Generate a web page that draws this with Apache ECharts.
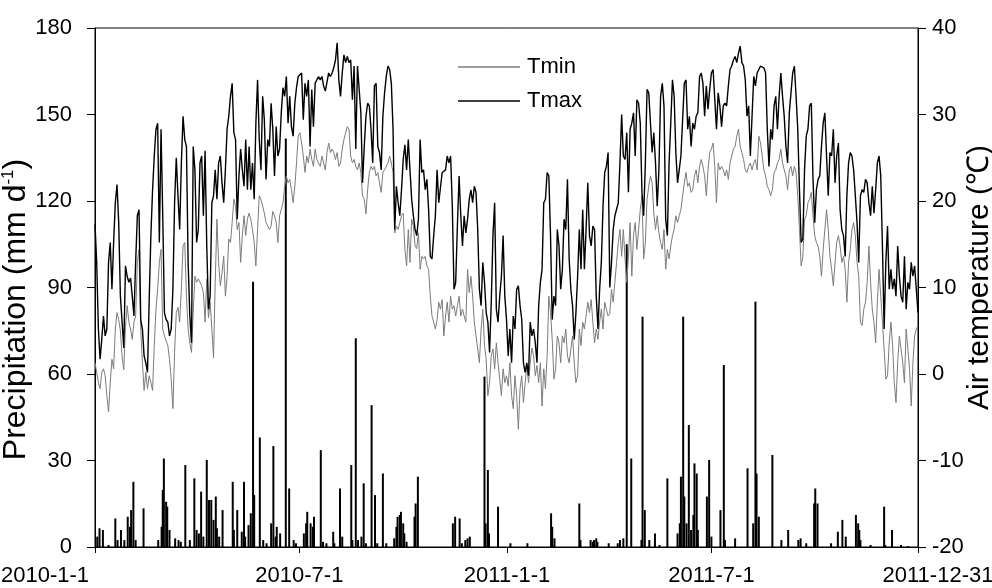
<!DOCTYPE html>
<html>
<head>
<meta charset="utf-8">
<script src="https://cdn.jsdelivr.net/npm/echarts@6/dist/echarts.min.js"></script>
<style>
  html, body { margin: 0; padding: 0; background: #fff; }
  #chart { width: 992px; height: 588px; }
</style>
</head>
<body>
<div id="chart"></div>
<script>
// day 0 = 2010-1-1, day 729 = 2011-12-31
// temperatures every 1.5 days
const dayStep = 1.5;

const tmax = [
  17.3, 12.9, 5.2, 1.7, 4.0, 6.7, 4.4, 5.2, 12.9, 15.2, 9.8, 15.2, 19.8, 21.9, 17.5, 9.0, 6.0, 3.0, 12.5, 11.3,
  10.6, 11.1, 9.0, 6.7, 12.9, 18.3, 19.0, 6.3, 5.2, 2.1, 1.3, 0.2, 8.6, 16.0, 21.3, 25.2, 28.3, 29.0, 15.2, 28.3,
  18.3, 7.1, 6.3, 6.0, 4.4, 5.2, 9.8, 19.8, 25.0, 20.6, 16.7, 24.4, 29.8, 27.1, 26.3, 12.9, 6.7, 3.6, 26.3, 23.6,
  15.2,
  16.7, 24.4, 25.2, 18.3, 25.8, 14.8, 7.5, 9.0, 19.8, 20.6, 23.6, 20.2, 24.4, 25.2, 22.1, 19.8, 23.6, 28.3, 29.8, 32.1,
  33.6, 27.9, 27.1, 17.9, 22.9, 26.0, 23.6, 21.7, 27.1, 21.3, 26.3, 21.3, 24.4, 20.2, 29.0, 34.0, 27.1, 23.6, 32.1, 29.4,
  22.5, 27.1, 26.3, 31.3, 28.3, 22.9, 28.6, 25.2, 26.0, 30.2, 33.1, 32.1, 34.4, 29.0, 32.1, 28.6, 27.5, 31.3, 33.1, 34.4,
  34.6,
  34.8, 29.4, 33.6, 32.1, 34.0, 26.3, 32.9, 28.6, 33.6, 34.0, 34.4, 34.0, 34.4, 33.3, 32.7, 32.5, 34.8, 34.4, 34.8, 35.4,
  36.3, 38.3, 34.0, 32.1, 34.8, 36.9, 36.0, 36.7, 36.0, 36.3, 31.7, 35.6, 26.0, 35.6, 35.6, 30.2, 22.1, 26.3, 29.8, 31.3,
  31.0, 28.3, 24.4, 33.3, 33.6, 26.3, 25.6, 23.6, 29.8, 32.5, 34.4, 35.6, 35.2, 33.6, 28.3, 16.7, 21.7, 19.8, 18.3, 21.3,
  24.8,
  26.5, 23.6, 27.1, 23.6, 20.2, 18.3, 16.7, 16.0, 17.9, 27.1, 23.3, 23.6, 21.3, 22.5, 19.0, 13.6, 13.3, 16.0, 18.3, 23.6,
  19.8, 19.8, 23.3, 23.3, 23.6, 25.2, 24.4, 25.2, 19.4, 9.8, 10.6, 17.1, 22.9, 18.3, 14.8, 18.3, 16.3, 17.9, 20.2, 21.3,
  19.8, 21.7, 21.0, 16.7, 9.8, 7.9, 12.9, 10.6, 7.1, 6.0, 2.5, 8.3, 16.0, 19.8, 7.5, 6.0, 9.0, 11.3, 16.0, 9.0,
  6.3,
  2.1, 5.2, 1.3, 6.7, 5.2, 9.8, 10.2, 7.9, 6.3, 1.3, 0.2, 1.3, -0.2, 6.0, 4.4, 5.2, 3.6, 1.3, 7.9, 10.6,
  12.1, 19.8, 20.2, 23.3, 22.9, 16.0, 6.3, 9.0, 7.9, 16.7, 14.8, 9.8, 12.1, 17.9, 16.7, 22.5, 13.3, 9.8, 7.9, 4.0,
  7.1, 11.3, 16.7, 12.1, 19.0, 12.1, 16.7, 22.1, 16.0, 14.8, 17.1, 16.7, 9.0, 5.2, 9.8, 12.9, 19.4, 23.3, 24.0, 25.6,
  10.0,
  12.9, 16.7, 18.3, 18.3, 19.8, 24.4, 30.0, 25.2, 24.8, 27.9, 21.0, 28.3, 29.0, 30.2, 25.2, 31.7, 31.3, 29.0, 21.0, 18.3,
  24.4, 32.9, 32.5, 32.5, 25.6, 27.9, 24.4, 19.4, 23.6, 32.1, 33.6, 31.0, 17.9, 16.0, 24.4, 29.0, 34.0, 32.1, 25.6, 22.1,
  23.6, 25.2, 29.4, 33.6, 34.0, 28.3, 29.8, 26.3, 29.0, 28.3, 29.8, 30.2, 34.4, 34.8, 33.6, 29.8, 33.3, 30.6, 32.9, 34.8,
  35.2,
  35.2, 28.3, 32.5, 31.0, 28.6, 31.0, 31.3, 31.0, 33.3, 35.2, 35.6, 36.3, 36.7, 36.0, 37.1, 37.9, 36.0, 35.6, 34.0, 29.8,
  31.0, 25.2, 29.8, 34.4, 33.3, 34.8, 35.2, 35.6, 35.8, 35.4, 34.8, 28.3, 24.0, 28.3, 27.1, 31.0, 32.1, 28.3, 32.1, 34.8,
  32.1, 29.8, 26.3, 24.4, 30.2, 32.5, 34.8, 35.6, 32.1, 28.3, 21.3, 15.2, 15.6, 23.6, 27.5, 28.3, 31.0, 31.3, 22.5, 17.5,
  21.3,
  22.5, 22.9, 26.3, 29.0, 30.2, 25.2, 20.6, 25.6, 25.2, 28.3, 22.1, 25.2, 26.7, 19.0, 16.7, 16.0, 13.6, 20.6, 24.4, 25.6,
  25.2, 23.6, 20.6, 17.5, 12.9, 20.6, 21.3, 21.0, 22.5, 22.1, 19.8, 18.3, 21.7, 18.6, 21.3, 24.4, 25.2, 22.9, 14.8, 5.2,
  12.9, 17.1, 9.8, 12.1, 9.8, 11.0, 9.0, 14.8, 11.3, 9.0, 8.3, 13.6, 7.5, 10.6, 9.8, 12.9, 11.3, 12.5, 9.8, 7.1
];

const tmin = [
  1.3, 0.2, -1.0, -1.7, 0.2, 0.6, -0.2, -2.5, -4.4, -1.0, 1.7, 0.6, 5.2, 7.1, 6.3, 5.0, 2.0, 0.5, 5.5, 7.9,
  6.0, 5.2, 4.0, 6.0, 6.7, 12.9, 14.4, 5.2, 1.3, -1.9, 0.2, -1.7, -0.2, -1.0, -1.9, 3.3, 7.5, 9.8, 12.9, 14.4,
  5.2, 4.4, 4.4, 3.3, 1.7, -0.6, -4.0, 2.5, 7.1, 7.7, 6.0, 9.8, 14.8, 15.2, 9.0, 5.2, 3.6, 2.5, 7.1, 11.3,
  10.6,
  11.0, 10.6, 10.2, 9.4, 6.0, 11.0, 6.5, 8.3, 5.2, 1.9, 10.6, 17.9, 12.9, 10.2, 11.7, 13.6, 9.0, 11.3, 15.6, 15.2,
  17.5, 20.2, 19.4, 16.7, 17.5, 12.9, 16.0, 18.3, 16.0, 17.9, 18.6, 17.9, 16.7, 15.2, 12.5, 16.7, 20.6, 20.2, 19.4, 18.6,
  17.5, 17.1, 16.7, 17.1, 18.8, 18.3, 17.5, 15.2, 18.3, 19.0, 19.8, 21.7, 22.9, 22.1, 22.5, 21.3, 19.8, 21.7, 24.4, 27.5,
  27.9,
  26.7, 25.2, 23.3, 25.2, 24.4, 26.0, 24.8, 24.0, 26.0, 24.8, 24.8, 24.0, 25.2, 24.4, 23.6, 25.6, 26.7, 25.6, 26.0, 25.6,
  24.8, 25.6, 24.0, 24.4, 26.0, 27.1, 27.9, 28.6, 28.3, 25.2, 24.4, 24.8, 24.0, 23.6, 24.4, 23.3, 20.6, 20.2, 18.5, 21.3,
  23.3, 24.0, 23.6, 24.0, 22.9, 23.3, 22.1, 21.0, 23.3, 23.6, 23.6, 24.4, 25.2, 24.4, 23.3, 16.3, 17.1, 16.7, 17.5, 18.3,
  18.6,
  14.4, 12.5, 16.7, 12.9, 17.9, 17.1, 14.8, 14.5, 16.3, 12.1, 13.6, 13.3, 13.6, 12.5, 12.1, 9.0, 6.7, 6.0, 5.2, 6.3,
  8.3, 7.5, 8.6, 4.4, 6.7, 8.3, 6.0, 9.0, 7.5, 7.9, 6.7, 7.9, 9.0, 6.7, 7.5, 6.7, 6.0, 12.1, 9.4, 11.3,
  9.0, 6.0, 4.4, 2.9, 1.3, 5.2, 7.5, 3.3, 1.7, -2.5, -1.0, 2.1, 2.9, 0.6, 3.6, 1.3, -0.6, -2.5, 0.6, -1.0,
  -0.2,
  -1.4, 1.3, -2.5, -4.0, -0.2, -2.5, -6.4, -1.7, -0.2, -3.3, -1.0, 1.0, -1.0, 1.3, 3.0, 2.1, -0.2, 1.0, -1.0, 1.3,
  -3.7, 0.6, -1.7, 2.1, 9.0, 7.1, 4.0, -0.6, 0.6, 4.4, 3.6, 1.3, 4.4, 3.6, 5.2, 2.1, 1.3, 2.9, 4.4, 1.3,
  -1.0, -0.2, 5.2, 3.3, 6.0, 5.2, 6.7, 8.3, 7.1, 8.6, 6.0, 3.6, 5.2, 4.0, 6.0, 7.5, 5.2, 8.3, 7.5, 6.7,
  7.0,
  9.8, 8.3, 10.6, 12.9, 15.2, 16.7, 13.6, 16.7, 13.3, 10.6, 13.6, 17.5, 11.3, 16.0, 17.5, 14.4, 16.7, 19.0, 20.6, 13.3,
  15.2, 20.2, 21.7, 22.9, 22.1, 18.6, 16.7, 18.3, 16.3, 15.2, 14.4, 16.7, 12.1, 14.4, 13.3, 14.8, 16.0, 16.7, 18.3, 17.5,
  18.3, 19.0, 20.6, 22.1, 23.3, 21.7, 22.1, 21.0, 21.3, 22.9, 23.6, 22.1, 24.0, 24.8, 24.0, 22.9, 20.6, 23.6, 25.6, 26.0,
  26.7,
  24.0, 19.8, 24.4, 23.6, 24.0, 23.6, 22.9, 23.6, 22.5, 24.4, 25.2, 26.0, 26.3, 27.5, 28.3, 26.3, 25.6, 24.8, 23.6, 23.3,
  24.0, 24.4, 23.6, 24.4, 24.8, 23.6, 27.5, 26.7, 25.2, 23.6, 22.9, 21.7, 21.3, 20.6, 21.3, 23.3, 23.6, 24.4, 24.8, 26.0,
  24.4, 23.6, 22.9, 21.3, 23.6, 24.0, 22.9, 24.0, 23.3, 20.6, 16.7, 12.5, 13.6, 17.9, 18.3, 19.8, 20.2, 21.0, 18.3, 16.0,
  15.2,
  14.8, 13.6, 11.3, 14.4, 16.7, 19.0, 16.7, 13.6, 12.1, 10.2, 12.9, 15.2, 16.0, 14.8, 12.9, 13.6, 12.1, 8.3, 12.9, 14.4,
  16.7, 17.5, 16.0, 12.9, 11.3, 6.0, 5.6, 7.5, 8.3, 10.6, 14.8, 10.6, 7.5, 6.0, 3.6, 8.3, 12.1, 9.0, 6.0, 2.9,
  -0.6, -0.2, 3.6, 6.0, 3.3, -1.0, -3.3, 1.3, 4.4, 2.9, 1.3, -1.0, 5.2, 2.9, 0.6, -3.7, 1.3, 4.4, 5.2, 5.6
];

// rain days and daily precipitation (mm)
const rainDay = [
  2, 4, 7, 12, 18, 20, 23, 26, 29, 31, 32, 34, 36, 43, 56, 59, 60, 61, 63, 64, 66, 71, 74, 76, 80, 84, 88, 90,
  92, 94, 96, 99, 101, 103, 105, 107, 108, 110, 113, 122, 123, 126, 130, 132, 133, 136, 138, 140, 141, 146, 149, 152,
  156, 158, 160, 161, 164, 169, 172, 176, 178,
  185, 187, 188, 191, 193, 194, 200, 202, 205, 211, 212, 217, 219, 227, 228, 231, 233, 236, 238, 240, 245, 248, 250,
  255, 258, 265, 267, 268, 270, 271, 273, 274, 276,
  283, 284, 286, 317, 319, 323, 325, 328, 330, 332, 345, 346, 348, 349, 357,
  368, 383, 404, 405, 407, 429, 430, 439, 441, 442, 444, 445, 455,
  463, 465, 468, 471, 475, 484, 485, 487, 491, 496, 500, 507, 516, 518, 519, 521, 522, 524, 526, 528, 530, 531, 533,
  534, 542, 544, 546,
  554, 557, 558, 567, 578, 583, 585, 586, 588, 600, 608, 614, 623, 625, 630, 637, 638, 640,
  652, 658, 662, 665, 674, 676, 677, 678, 687, 699, 700, 706, 714, 720
];
const rainVal = [
  3.6, 6.5, 5.9, 0.7, 9.9, 2.4, 5.9, 2.4, 10.5, 7.0, 12.8, 22.6, 2.4, 13.4, 2.4, 7.0, 19.8, 30.7, 15.7, 14.0, 5.9, 3.0, 2.4, 1.8, 28.4, 2.4, 23.8, 5.9,
  4.7, 19.2, 3.6, 30.2, 16.3, 16.3, 9.4, 17.5, 6.5, 3.6, 12.8, 22.6, 5.9, 12.8, 5.3, 22.6, 3.6, 7.6, 11.7, 92.0, 18.0, 38.0, 2.4, 1.3,
  8.2, 35.0, 3.6, 7.0, 4.7, 141.7, 20.3, 2.4, 1.3,
  4.7, 8.2, 12.2, 8.2, 7.0, 10.5, 33.6, 1.8, 1.3, 5.3, 1.3, 20.3, 3.6, 28.4, 2.4, 72.4, 2.4, 3.6, 22.1, 1.3, 49.2, 18.0, 1.3,
  25.5, 1.3, 3.0, 7.0, 10.5, 11.1, 12.2, 8.2, 4.7, 1.8,
  10.5, 15.1, 24.4, 8.2, 10.5, 9.9, 1.3, 2.4, 3.0, 3.6, 59.1, 8.2, 26.7, 4.7, 14.0,
  1.3, 1.3, 11.7, 7.0, 3.0, 15.1, 2.4, 2.4, 1.8, 2.4, 3.0, 1.8, 1.3,
  1.3, 2.4, 3.0, 105.0, 30.7, 2.4, 79.9, 12.8, 2.4, 4.7, 0.7, 23.8, 4.7, 8.2, 24.4, 79.9, 17.5, 8.2, 42.3, 5.9, 11.1, 29.0, 25.5,
  5.9, 17.5, 30.2, 3.6,
  12.8, 63.1, 2.4, 3.0, 27.3, 8.2, 85.1, 25.5, 10.5, 31.9, 2.4, 5.9, 2.4, 3.0, 1.3, 15.1, 20.3, 15.1,
  1.3, 5.3, 9.4, 3.6, 11.1, 8.2, 5.9, 2.4, 0.7, 14.0, 0.7, 5.9, 0.7, 0.3
];

const tickDays = [0, 181, 365, 546, 729];
const tickLabels = ['2010-1-1', '2010-7-1', '2011-1-1', '2011-7-1', '2011-12-31'];

const font = 'Liberation Sans, Arial, sans-serif';
const axisColor = '#000';
const tminColor = '#7c7c7c';

const chart = echarts.init(document.getElementById('chart'));

chart.setOption({
  animation: false,
  backgroundColor: '#fff',
  textStyle: { fontFamily: font, color: '#000' },
  grid: {
    left: 95, right: 74, top: 28, bottom: 41,
    outerBoundsMode: 'none',
    containLabel: false,
    show: true, borderColor: axisColor, borderWidth: 1
  },
  legend: {
    orient: 'vertical',
    left: 458, top: 56,
    padding: 0,
    icon: 'rect',
    itemWidth: 62, itemHeight: 1.5, itemGap: 12,
    textStyle: { fontSize: 22, color: '#000', fontFamily: font, lineHeight: 22, padding: [0, 0, 0, 2] },
    data: ['Tmin', 'Tmax']
  },
  xAxis: {
    type: 'value',
    min: 0, max: 729,
    splitLine: { show: false },
    axisLine: { lineStyle: { color: axisColor, width: 1 } },
    axisTick: { customValues: tickDays, length: 6, lineStyle: { color: axisColor } },
    axisLabel: {
      customValues: tickDays,
      margin: 18,
      fontSize: 22, color: '#000', fontFamily: font,
      formatter: function (v) {
        const i = tickDays.indexOf(v);
        if (i === 0) return '{first|' + tickLabels[i] + '}';
        if (i === tickDays.length - 1) return '{last|' + tickLabels[i] + '}';
        return tickLabels[i];
      },
      rich: {
        first: { fontSize: 22, fontFamily: font, color: '#000', padding: [0, 100, 0, 0] },
        last: { fontSize: 22, fontFamily: font, color: '#000', padding: [0, 0, 0, 40] }
      }
    }
  },
  yAxis: [
    {
      type: 'value',
      min: 0, max: 180, interval: 30,
      splitLine: { show: false },
      axisLine: { show: true, lineStyle: { color: axisColor, width: 1 } },
      axisTick: { show: true, length: 8, lineStyle: { color: axisColor } },
      axisLabel: { margin: 23, fontSize: 22, color: '#000', fontFamily: font },
      // trailing spacer pushes the rotated title a little below the axis middle
      name: 'Precipitation (mm d{sup|-1}){gap|}',
      nameLocation: 'middle',
      nameRotate: 90,
      nameGap: 63,
      nameMoveOverlap: false,
      nameTextStyle: {
        fontSize: 32, color: '#000', fontFamily: font,
        rich: {
          sup: { fontSize: 17, color: '#000', fontFamily: font, verticalAlign: 'top', lineHeight: 32 },
          gap: { width: 44 }
        }
      }
    },
    {
      type: 'value',
      min: -20, max: 40, interval: 10,
      position: 'right',
      splitLine: { show: false },
      axisLine: { show: true, lineStyle: { color: axisColor, width: 1 } },
      axisTick: { show: true, length: 8, lineStyle: { color: axisColor } },
      axisLabel: { margin: 14, fontSize: 22, color: '#000', fontFamily: font },
      name: '{gap|}Air temperature (℃)',
      nameLocation: 'middle',
      nameRotate: 90,
      nameGap: 47,
      nameMoveOverlap: false,
      nameTextStyle: {
        fontSize: 30, color: '#000', fontFamily: font,
        rich: { gap: { width: 20 } }
      }
    }
  ],
  series: [
    {
      name: 'Precipitation',
      type: 'bar',
      xAxisIndex: 0, yAxisIndex: 0,
      barWidth: 2,
      itemStyle: { color: '#000' },
      data: rainDay.map((d, i) => [d, rainVal[i]])
    },
    {
      name: 'Tmin',
      type: 'line',
      yAxisIndex: 1,
      symbol: 'none',
      lineStyle: { color: tminColor, width: 1 },
      itemStyle: { color: tminColor },
      data: tmin.map((v, i) => [i * dayStep, v])
    },
    {
      name: 'Tmax',
      type: 'line',
      yAxisIndex: 1,
      symbol: 'none',
      lineStyle: { color: '#000', width: 1.4 },
      itemStyle: { color: '#000' },
      data: tmax.map((v, i) => [i * dayStep, v])
    }
  ]
});
</script>
</body>
</html>
